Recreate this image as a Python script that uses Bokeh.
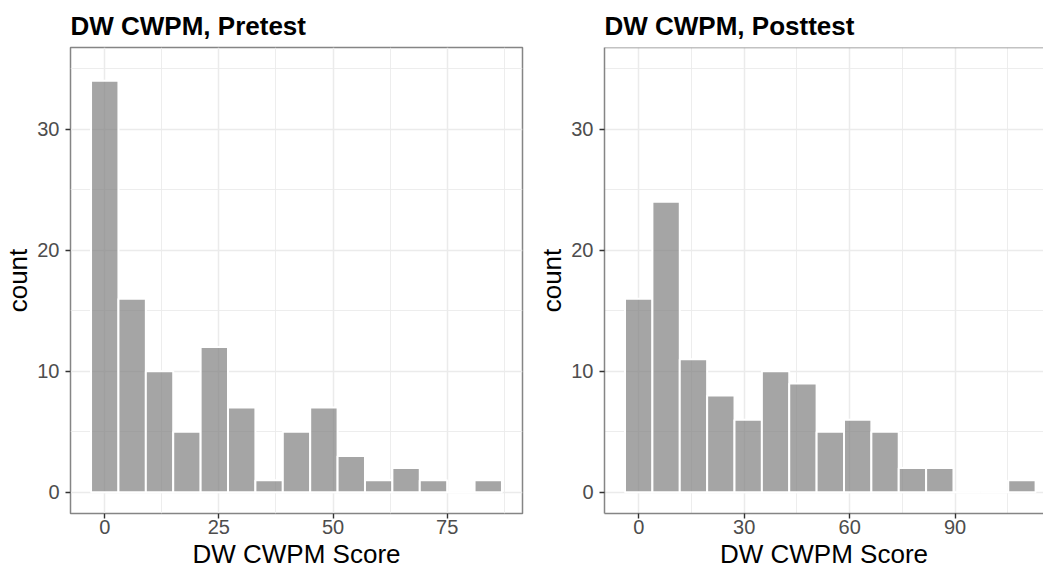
from bokeh.plotting import figure
from bokeh.layouts import row
from bokeh.models import Range1d, FixedTicker, Span
from bokeh.embed import file_html
from bokeh.resources import INLINE

# ---- data ----
pre_centers = [0, 6, 12, 18, 24, 30, 36, 42, 48, 54, 60, 66, 72, 78, 84]
pre_counts = [34, 16, 10, 5, 12, 7, 1, 5, 7, 3, 1, 2, 1, 0, 1]
pre_binwidth = 6.0

post_centers = [0, 7.79, 15.57, 23.36, 31.14, 38.93, 46.71, 54.5, 62.29,
                70.07, 77.86, 85.64, 93.43, 101.21, 109.0]
post_counts = [16, 24, 11, 8, 6, 10, 9, 5, 6, 5, 2, 2, 0, 0, 1]
post_binwidth = 7.786

pre_xticks = [0, 25, 50, 75]
pre_xminor = [12.5, 37.5, 62.5, 87.5]
post_xticks = [0, 30, 60, 90]
post_xminor = [15, 45, 75, 105]
y_ticks = [0, 10, 20, 30]
y_minor = [5, 15, 25, 35]

pre_title = "DW CWPM, Pretest"
post_title = "DW CWPM, Posttest"
x_label = "DW CWPM Score"
y_label = "count"

# ---- styling ----
FONT = "Liberation Sans"
BORDER = "#858585"
GRID = "#EBEBEB"
Y_RANGE = (-1.75, 36.75)


def make_fig(title, centers, counts, bw, xr, xticks, xminor, width,
             mb_left, mb_right, outline=True):
    p = figure(width=width, height=571, x_range=Range1d(*xr),
               y_range=Range1d(*Y_RANGE), output_backend="svg",
               toolbar_location=None, title=title,
               min_border_left=mb_left, min_border_right=mb_right,
               min_border_top=47, min_border_bottom=58)
    p.title.text_font = FONT
    p.title.text_font_size = "26px"
    p.title.text_font_style = "bold"
    p.title.text_color = "black"
    p.title.align = "left"
    p.title.standoff = 14

    left = [c - bw / 2 for c in centers]
    right = [c + bw / 2 for c in centers]
    p.quad(left=left, right=right, bottom=0, top=counts,
           fill_color="#7f7f7f", fill_alpha=0.7,
           line_color="white", line_width=2)

    xt = FixedTicker(ticks=xticks, minor_ticks=xminor)
    yt = FixedTicker(ticks=y_ticks, minor_ticks=y_minor)
    p.xaxis.ticker = xt
    p.yaxis.ticker = yt
    for g in (p.xgrid, p.ygrid):
        g.grid_line_color = GRID
        g.grid_line_width = 1.5
        g.minor_grid_line_color = GRID
        g.minor_grid_line_width = 0.9

    for ax in (p.xaxis, p.yaxis):
        ax.major_tick_line_color = "#333333"
        ax.major_tick_line_width = 1.4
        ax.major_tick_out = 5
        ax.major_tick_in = 0
        ax.minor_tick_line_color = None
        ax.major_label_text_font = FONT
        ax.major_label_text_font_size = "20px"
        ax.major_label_text_color = "#4D4D4D"
        ax.axis_label_text_font = FONT
        ax.axis_label_text_font_size = "26px"
        ax.axis_label_text_font_style = "normal"
        ax.axis_label_text_color = "black"
        if outline:
            ax.axis_line_color = None
        else:
            ax.axis_line_color = BORDER
            ax.axis_line_width = 1.5

    p.xaxis.axis_label = x_label
    p.xaxis.major_label_standoff = 1
    p.xaxis.axis_label_standoff = 2
    p.yaxis.axis_label = y_label
    p.yaxis.major_label_standoff = 6
    p.yaxis.axis_label_standoff = 1

    if outline:
        p.outline_line_color = BORDER
        p.outline_line_width = 1.5
    else:
        p.outline_line_color = None
        p.add_layout(Span(location=Y_RANGE[1], dimension="width",
                          line_color=BORDER, line_width=1.5))
    return p


p1 = make_fig(pre_title, pre_centers, pre_counts, pre_binwidth,
              (-7.5, 91.5), pre_xticks, pre_xminor, 532, 70, 10, True)
p2 = make_fig(post_title, post_centers, post_counts, post_binwidth,
              (-9.73, 115.14), post_xticks, post_xminor, 511, 72, 0, False)

layout = row(p1, p2)
open("out.html", "w").write(file_html(layout, INLINE))
